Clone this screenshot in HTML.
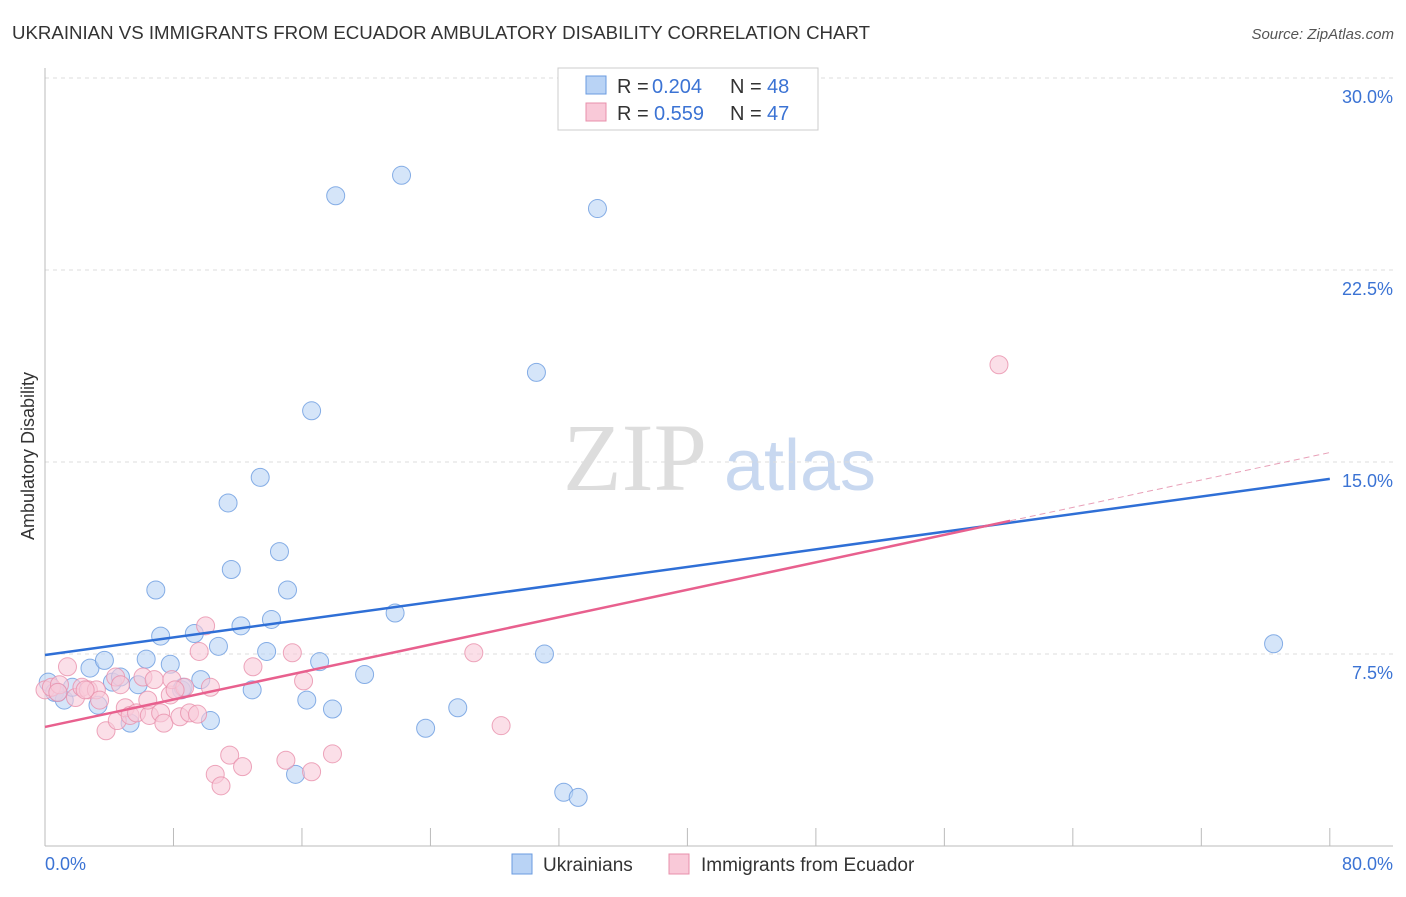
<!DOCTYPE html>
<html><head><meta charset="utf-8"><style>
body{margin:0;background:#fff;font-family:"Liberation Sans",sans-serif}
</style></head><body>
<svg width="1406" height="892" xmlns="http://www.w3.org/2000/svg">
<text x="12" y="39" font-size="18" fill="#333" textLength="858" lengthAdjust="spacingAndGlyphs">UKRAINIAN VS IMMIGRANTS FROM ECUADOR AMBULATORY DISABILITY CORRELATION CHART</text>
<text x="1394" y="39" font-size="15" fill="#555" font-style="italic" text-anchor="end">Source: ZipAtlas.com</text>
<g>
<text x="635" y="490" font-size="96" fill="#ddd" font-family="Liberation Serif,serif" text-anchor="middle">ZIP</text>
<text x="800" y="490" font-size="72" fill="#c8d8f0" text-anchor="middle">atlas</text></g>
<g id="grid"></g><g id="axes"></g><g id="pts"></g><g id="lines"></g>
<text transform="translate(34,456) rotate(-90)" font-size="18" fill="#333" text-anchor="middle">Ambulatory Disability</text>
<text x="45" y="870" font-size="18" fill="#3b73d4">0.0%</text>
<text x="1393" y="870" font-size="18" fill="#3b73d4" text-anchor="end">80.0%</text>
<g>
<rect x="558" y="68" width="260" height="62" fill="#fff" stroke="#ccc"/>
<rect x="586" y="76" width="20" height="18" fill="#b9d3f5" stroke="#6a9be0"/>
<rect x="586" y="103" width="20" height="18" fill="#f9c9d8" stroke="#e890ab"/>
<text x="617" y="93" font-size="20" fill="#333">R =</text>
<text x="652" y="93" font-size="20" fill="#3b73d4">0.204</text>
<text x="730" y="93" font-size="20" fill="#333">N =</text>
<text x="767" y="93" font-size="20" fill="#3b73d4">48</text>
<text x="617" y="120" font-size="20" fill="#333">R =</text>
<text x="654" y="120" font-size="20" fill="#3b73d4">0.559</text>
<text x="730" y="120" font-size="20" fill="#333">N =</text>
<text x="767" y="120" font-size="20" fill="#3b73d4">47</text>
</g>
<g>
<rect x="512" y="854" width="20" height="20" fill="#b9d3f5" stroke="#6a9be0"/>
<text x="543" y="871" font-size="19" fill="#333">Ukrainians</text>
<rect x="669" y="854" width="20" height="20" fill="#f9c9d8" stroke="#e890ab"/>
<text x="701" y="871" font-size="19" fill="#333">Immigrants from Ecuador</text>
</g>
</svg>
<script>
const yTicks=[7.5,15,22.5,30];
const xTicks=[0,8,16,24,32,40,48,56,64,72,80];
const blueX=[0.2,0.6,1.2,1.7,2.8,3.3,3.7,4.2,4.7,5.3,5.8,6.3,6.9,7.2,7.8,8.5,8.6,9.3,9.7,10.3,10.8,11.4,11.6,12.2,12.9,13.4,13.8,14.1,14.6,15.1,15.6,16.3,16.6,17.1,17.9,18.1,19.9,21.8,22.2,23.7,25.7,30.6,31.1,32.3,33.2,34.4,76.5,0.8];
const blueY=[6.4,6.0,5.7,6.2,6.95,5.5,7.25,6.4,6.6,4.8,6.3,7.3,10.0,8.2,7.1,6.1,6.2,8.3,6.5,4.9,7.8,13.4,10.8,8.6,6.1,14.4,7.6,8.85,11.5,10.0,2.8,5.7,17.0,7.2,5.35,25.4,6.7,9.1,26.2,4.6,5.4,18.5,7.5,2.1,1.9,24.9,7.9,6.0];
const pinkX=[0,0.4,0.9,1.4,1.9,2.3,2.7,3.2,3.4,3.8,4.4,4.5,5.0,5.3,5.7,6.1,6.5,6.8,7.2,7.4,7.8,7.9,8.4,8.7,9.0,9.5,9.6,10.0,10.3,10.6,10.96,11.5,12.3,12.95,15.0,15.4,16.1,16.6,17.9,26.7,28.4,59.4,0.8,2.5,6.4,8.1,4.7];
const pinkY=[6.1,6.2,6.3,7.0,5.8,6.2,6.1,6.1,5.7,4.5,6.6,4.9,5.4,5.1,5.2,6.6,5.1,6.5,5.2,4.8,5.9,6.5,5.05,6.2,5.2,5.15,7.6,8.6,6.2,2.8,2.35,3.55,3.1,7.0,3.35,7.55,6.45,2.9,3.6,7.55,4.7,18.8,6.0,6.1,5.7,6.1,6.3];
const blueTrend=[7.46,14.34];
const pinkTrend=[4.65,15.37];
const pinkSolidEnd=60.1;
const X=v=>45+v*16.06, Y=v=>846-v*25.6;
const NS="http://www.w3.org/2000/svg";
function mk(p,t,a){const e=document.createElementNS(NS,t);for(const k in a)e.setAttribute(k,a[k]);document.getElementById(p).appendChild(e);return e;}
yTicks.forEach(t=>{
const l=mk('grid','line',{x1:45,x2:1393,y1:Y(t),y2:Y(t),stroke:'#ddd','stroke-dasharray':'4,4'});


const tx=mk('grid','text',{x:1393,y:Y(t)+25,'font-size':18,fill:'#3b73d4','text-anchor':'end'});
tx.textContent=t.toFixed(1)+'%';


});
mk('axes','line',{x1:45,x2:45,y1:68,y2:846,stroke:'#bbb'});
mk('axes','line',{x1:45,x2:1393,y1:846,y2:846,stroke:'#bbb'});
xTicks.forEach(t=>{const l=mk('axes','line',{x1:X(t),x2:X(t),y1:828,y2:846,stroke:'#bbb'});

});
function pt(x,y,f,s,n){const c=mk('pts','circle',{cx:X(x),cy:Y(y),r:9,fill:f,stroke:s,'stroke-width':1,'fill-opacity':0.6,'stroke-opacity':0.8});

}
blueX.forEach((x,i)=>pt(x,blueY[i],'#b9d3f5','#6a9be0','ukrainian-point'));
pinkX.forEach((x,i)=>pt(x,pinkY[i],'#f9c9d8','#e890ab','ecuador-point'));
let b=mk('lines','line',{x1:X(0),y1:Y(blueTrend[0]),x2:X(80),y2:Y(blueTrend[1]),stroke:'#2f6fd6','stroke-width':2.5});


const pe=pinkTrend[0]+(pinkTrend[1]-pinkTrend[0])*pinkSolidEnd/80;
let p=mk('lines','line',{x1:X(0),y1:Y(pinkTrend[0]),x2:X(pinkSolidEnd),y2:Y(pe),stroke:'#e8608e','stroke-width':2.5});


let pd=mk('lines','line',{x1:X(pinkSolidEnd),y1:Y(pe),x2:X(80),y2:Y(pinkTrend[1]),stroke:'#e8a0b8','stroke-width':1,'stroke-dasharray':'6,4'});


</script>
</body></html>
